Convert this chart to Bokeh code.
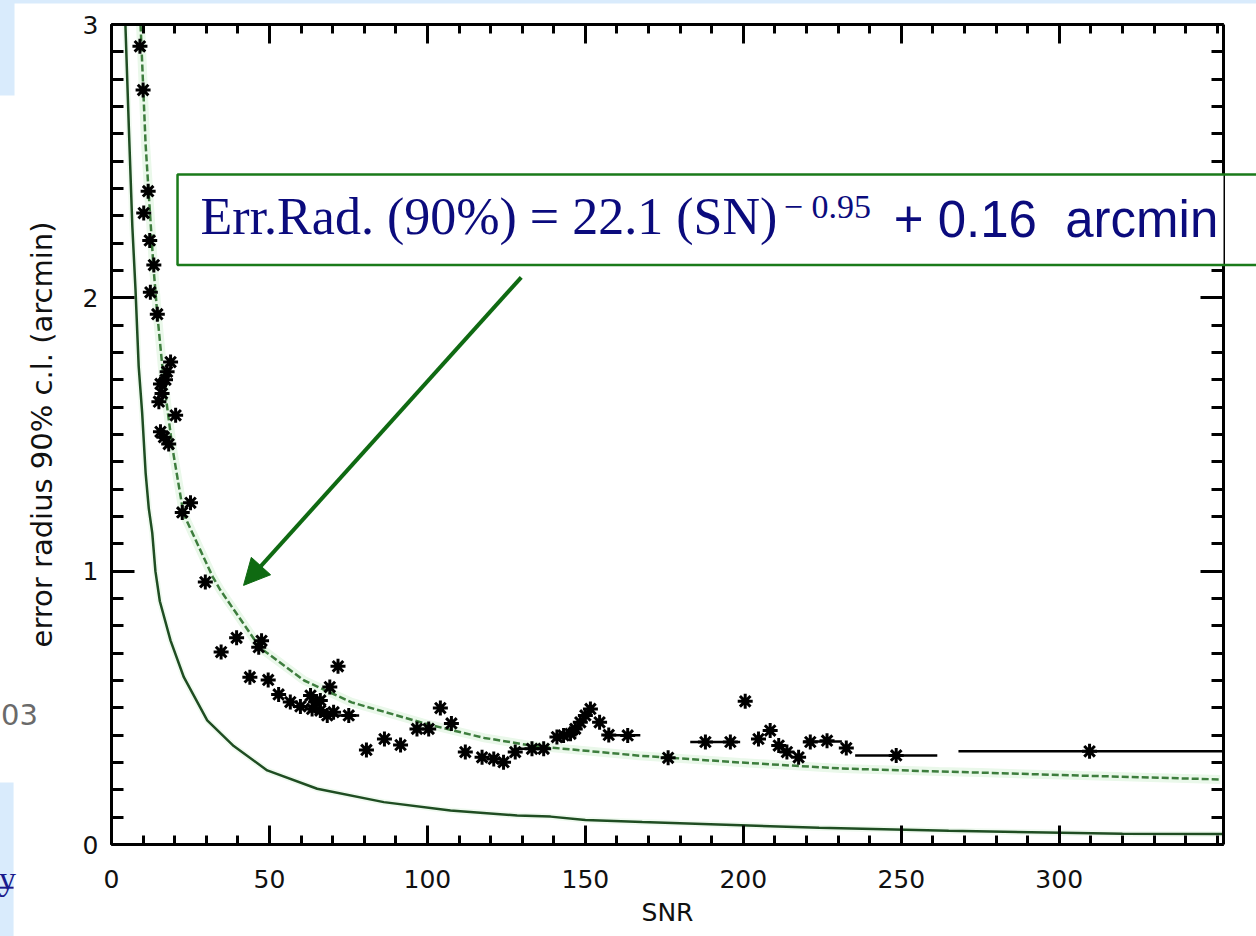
from bokeh.plotting import figure
from bokeh.models import (Range1d, LinearAxis, FixedTicker, BoxAnnotation, Label,
                          Arrow, NormalHead)
from bokeh.core.properties import value
from bokeh.embed import file_html
from bokeh.resources import INLINE

# ---------------- data ----------------
snr = [9.0, 10.0, 11.6, 10.2, 12.1, 13.4, 12.3, 14.5, 18.7, 17.6, 17.1, 15.5, 16.0, 15.0,
       20.3, 15.5, 16.6, 18.1, 25.0, 22.4, 29.7, 34.7, 39.6, 46.6, 47.5, 43.8, 49.6, 52.9,
       56.6, 59.8, 63.0, 64.6, 66.1, 63.5, 66.1, 69.1, 71.7, 68.3, 70.3, 75.1, 80.7, 86.4,
       91.5, 96.7, 100.4, 104.1, 107.6, 112.0, 117.3, 121.0, 124.1, 127.8, 133.1, 136.8,
       141.0, 143.1, 145.3, 146.8, 148.4, 150.0, 151.6, 154.5, 157.4, 163.4, 176.2, 188.0,
       195.9, 200.6, 204.8, 208.5, 211.2, 213.8, 217.5, 221.2, 226.5, 232.6, 248.4, 309.6]
err_radius = [2.92, 2.76, 2.39, 2.31, 2.21, 2.12, 2.02, 1.94, 1.765, 1.73, 1.70, 1.685, 1.65,
              1.62, 1.57, 1.51, 1.49, 1.465, 1.25, 1.215, 0.96, 0.704, 0.756, 0.722, 0.745,
              0.612, 0.602, 0.549, 0.521, 0.505, 0.545, 0.521, 0.527, 0.496, 0.490, 0.576,
              0.652, 0.472, 0.484, 0.472, 0.346, 0.386, 0.364, 0.423, 0.423, 0.499, 0.443,
              0.338, 0.319, 0.313, 0.301, 0.338, 0.35, 0.35, 0.393, 0.399, 0.405, 0.423,
              0.447, 0.472, 0.496, 0.447, 0.401, 0.399, 0.317, 0.375, 0.375, 0.524, 0.386,
              0.417, 0.362, 0.338, 0.319, 0.375, 0.38, 0.353, 0.326, 0.341]

# horizontal error bars (SNR ranges) of some sources
bar_err = [0.472, 0.35, 0.400, 0.375, 0.377, 0.326, 0.341]
bar_snr_lo = [66.1, 127.8, 155.7, 183.2, 219.0, 235.4, 268.1]
bar_snr_hi = [78.4, 139.0, 167.4, 199.0, 231.2, 261.4, 352.0]

# fitted relation (dashed)
fit_snr = [9.2, 10.8, 13.3, 14.5, 16.5, 19.3, 22.8, 32.0, 34.5, 47.0, 61.0, 76.0, 100.0,
           118.0, 134.0, 167.0, 199.0, 231.0, 262.0, 275.0, 307.0, 351.0]
fit_err = [3.0, 2.56, 2.11, 1.94, 1.70, 1.45, 1.21, 0.98, 0.93, 0.72, 0.60, 0.52, 0.44,
           0.39, 0.36, 0.325, 0.30, 0.278, 0.267, 0.263, 0.252, 0.238]

# lower solid curve
low_snr = [4.4, 5.5, 6.6, 7.6, 8.6, 9.7, 10.8, 11.8, 12.9, 13.9, 15.3, 18.7, 22.9, 30.3,
           38.7, 49.3, 65.1, 86.2, 107.3, 128.4, 139.0, 150.0, 168.0, 192.0, 224.0, 265.0,
           320.0, 352.0]
low_err = [3.0, 2.62, 2.26, 2.03, 1.75, 1.58, 1.36, 1.23, 1.14, 1.0, 0.89, 0.746, 0.612,
           0.454, 0.36, 0.271, 0.204, 0.155, 0.124, 0.106, 0.102, 0.09, 0.082, 0.073, 0.061,
           0.05, 0.039, 0.038]

x_ticks = [0, 50, 100, 150, 200, 250, 300]
x_minor = list(range(0, 360, 10))
y_ticks = [0, 1, 2, 3]
y_minor = [i / 10 for i in range(31)]

# ---------------- figure ----------------
TICK_FONT = "DejaVu Sans"
p = figure(width=1256, height=936, x_range=Range1d(0, 352), y_range=Range1d(0, 3),
           output_backend="svg", toolbar_location=None,
           min_border_left=111, min_border_right=33, min_border_top=24, min_border_bottom=92,
           background_fill_color="white", border_fill_color="white")
p.grid.visible = False
p.outline_line_color = None


def style_axis(ax, ticks, minor, major_in, minor_in, labels=True):
    ax.ticker = FixedTicker(ticks=ticks, minor_ticks=minor)
    ax.axis_line_color = "black"
    ax.axis_line_width = 3
    ax.major_tick_line_color = "black"
    ax.major_tick_line_width = 3
    ax.minor_tick_line_color = "black"
    ax.minor_tick_line_width = 3
    ax.major_tick_in = major_in
    ax.major_tick_out = 0
    ax.minor_tick_in = minor_in
    ax.minor_tick_out = 0
    if labels:
        ax.major_label_text_font = TICK_FONT
        ax.major_label_text_font_size = "25px"
        ax.major_label_text_color = "#111111"
    else:
        ax.major_label_text_font_size = "1px"
        ax.major_label_text_alpha = 0
        ax.major_label_standoff = 0


xa = p.xaxis[0]
style_axis(xa, x_ticks, x_minor, 19, 9)
xa.major_label_standoff = 25
xa.axis_label = "SNR"
xa.axis_label_text_font = TICK_FONT
xa.axis_label_text_font_size = "25px"
xa.axis_label_text_font_style = "normal"
xa.axis_label_text_color = "#111111"
xa.axis_label_standoff = 7

ya = p.yaxis[0]
style_axis(ya, y_ticks, y_minor, 23, 12)
ya.major_label_standoff = 13
ya.axis_label = "error radius 90% c.l. (arcmin)"
ya.axis_label_text_font = TICK_FONT
ya.axis_label_text_font_size = "29px"
ya.axis_label_text_font_style = "normal"
ya.axis_label_text_color = "#111111"
ya.axis_label_standoff = 21

top_ax = LinearAxis()
style_axis(top_ax, x_ticks, x_minor, 19, 9, labels=False)
p.add_layout(top_ax, "above")
right_ax = LinearAxis()
style_axis(right_ax, y_ticks, y_minor, 23, 12, labels=False)
p.add_layout(right_ax, "right")

# curves
p.line(fit_snr, fit_err, line_color="#eaf8ea", line_width=9)
p.line(low_snr, low_err, line_color="#f0faf0", line_width=6)
p.line(low_snr, low_err, line_color="#1f4d22", line_width=2.5)
p.line(fit_snr, fit_err, line_color="#3d7d3d", line_width=2.5, line_dash="7 3")

# data
p.segment(x0=bar_snr_lo, y0=bar_err, x1=bar_snr_hi, y1=bar_err,
          line_color="black", line_width=2.5)
p.scatter(snr, err_radius, marker="asterisk", size=15, line_color="black", line_width=3)

# formula box: white fill over the axes, green border on the top, left and bottom sides
box_left, box_right, box_bottom, box_top = 20.9, 366, 2.12, 2.451
box_green = "#1a7a1a"
p.add_layout(BoxAnnotation(left=box_left, right=box_right, bottom=box_bottom, top=box_top,
                           fill_color="white", fill_alpha=1, line_alpha=0))
p.multi_line(xs=[[box_right, box_left, box_left, box_right]],
             ys=[[box_top, box_top, box_bottom, box_bottom]],
             line_color=box_green, line_width=2.5, level="overlay")
navy = "#0b0b7d"
p.add_layout(Label(x=28.2, y=2.298, text="Err.Rad. (90%) = 22.1 (SN)",
                   text_font="Liberation Serif", text_font_size="52px", text_color=navy,
                   text_baseline="alphabetic", text_align="left"))
p.add_layout(Label(x=212.8, y=2.335, text="\u2212 0.95",
                   text_font="Liberation Serif", text_font_size="34px", text_color=navy,
                   text_baseline="alphabetic", text_align="left"))
p.add_layout(Label(x=247.6, y=2.285, text="+ 0.16 \u00a0arcmin",
                   text_font="Liberation Sans", text_font_size="51px", text_color=navy,
                   text_baseline="alphabetic", text_align="left"))

arrow_c = "#0f6a12"
p.add_layout(Arrow(end=NormalHead(size=26, fill_color=arrow_c, line_color=arrow_c),
                   x_start=129.7, y_start=2.075, x_end=41.8, y_end=0.948,
                   line_color=arrow_c, line_width=4))

# remnants of the slide around the chart (light-blue bands and text fragments)
slide_blue = "#d9ebfc"
p.quad(left=[-35.3, -35.3, -35.3], right=[362.5, -30.7, -31.0],
       bottom=[3.077, 2.740, -0.34], top=[3.09, 3.09, 0.227],
       fill_color=slide_blue, line_color=None, level="overlay")
p.text(x=[-35.0], y=[0.477], text=["03"], text_font=value("DejaVu Sans"),
       text_font_size="29px", text_color="#6a6a6a", text_baseline="alphabetic",
       level="overlay")
p.text(x=[-35.6], y=[-0.124], text=["y"], text_font=value("Liberation Serif"),
       text_font_size="34px", text_color="#1a1a8c", text_baseline="alphabetic",
       level="overlay")
p.segment(x0=[-35.3], y0=[-0.158], x1=[-31.0], y1=[-0.158], line_color="#1a1a8c",
          line_width=2, level="overlay")

open("out.html", "w").write(file_html(p, INLINE))
